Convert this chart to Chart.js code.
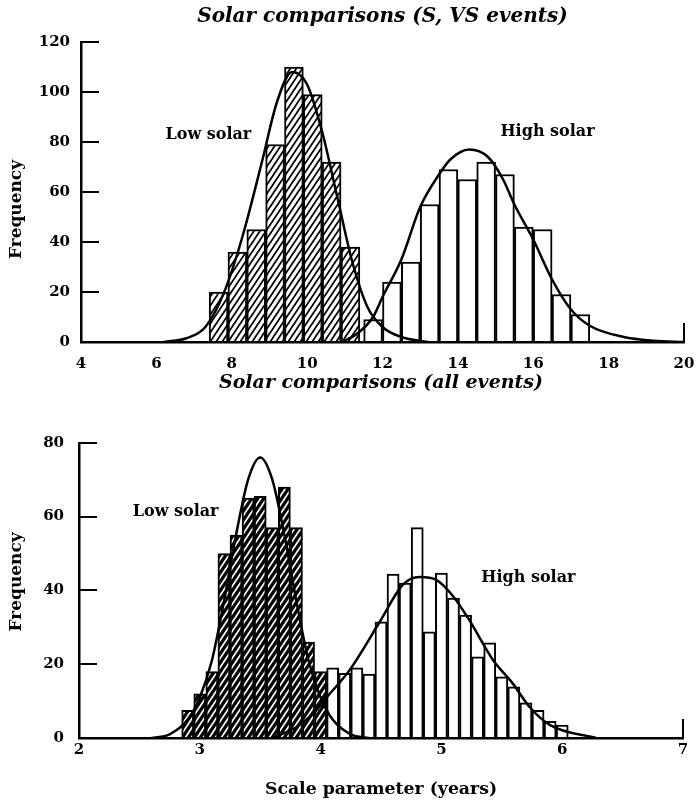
<!DOCTYPE html>
<html>
<head>
<meta charset="utf-8">
<script src="https://cdn.jsdelivr.net/npm/chart.js@4.4.0/dist/chart.umd.min.js"></script>
<style>
  body { margin: 0; background: #fff; }
  .box { position: absolute; left: 0; width: 696px; }
  #boxTop { top: 0; height: 380px; }
  #boxBottom { top: 372px; height: 434px; }
</style>
</head>
<body>
<div class="box" id="boxTop"><canvas id="chartTop"></canvas></div>
<div class="box" id="boxBottom"><canvas id="chartBottom"></canvas></div>
<script>
// S, VS events: histogram bins (centre, years) and counts
const svLowBins = [7.65, 8.15, 8.65, 9.15, 9.65, 10.15, 10.65, 11.15];
const svLowCounts = [20, 36, 45, 79, 110, 99, 72, 38];
const svHighBins = [11.75, 12.25, 12.75, 13.25, 13.75, 14.25, 14.75, 15.25, 15.75, 16.25, 16.75, 17.25];
const svHighCounts = [9, 24, 32, 55, 69, 65, 72, 67, 46, 45, 19, 11];

// S, VS events: fitted curves
const svLowFitX = [6.2, 6.8, 7.3, 7.8, 8.3, 8.8, 9.2, 9.6, 10.0, 10.4, 10.8, 11.2, 11.6, 12.0, 12.5, 13.2];
const svLowFitY = [0, 1.5, 6, 20, 43, 72, 96, 108, 103, 84, 58, 32, 14, 6, 2, 0];
const svHighFitX = [10.9, 11.3, 11.75, 12.0, 12.5, 13.0, 13.5, 13.8, 14.3, 14.8, 15.2, 15.5, 16.0, 16.5, 17.0, 17.5, 18.4, 19.2, 20];
const svHighFitY = [0, 3, 10, 18, 33, 54, 67, 73, 77, 74, 65, 55, 41, 25, 13, 6.5, 2, 0.5, 0];

// all events: histogram bins and counts
const allLowBins = [2.9, 3.0, 3.1, 3.2, 3.3, 3.4, 3.5, 3.6, 3.7, 3.8, 3.9, 4.0];
const allLowCounts = [7.5, 12, 18, 50, 55, 65, 65.5, 57, 68, 57, 26, 18];
const allHighBins = [4.1, 4.2, 4.3, 4.4, 4.5, 4.6, 4.7, 4.8, 4.9, 5.0, 5.1, 5.2, 5.3, 5.4, 5.5, 5.6, 5.7, 5.8, 5.9, 6.0];
const allHighCounts = [19, 17.5, 19, 17.3, 31.5, 44.4, 42, 57, 28.8, 44.7, 37.9, 33.3, 22, 25.8, 16.6, 13.9, 9.5, 7.5, 4.5, 3.5];

// all events: fitted curves
const allLowFitX = [2.6, 2.75, 2.9, 3.0, 3.1, 3.2, 3.3, 3.4, 3.5, 3.6, 3.7, 3.8, 3.9, 4.0, 4.1, 4.25, 4.4];
const allLowFitY = [0, 1, 5, 11, 21, 37, 55, 70, 76, 70, 55, 37, 21, 11, 5, 1, 0];
const allHighFitX = [3.6, 3.8, 3.95, 4.05, 4.24, 4.49, 4.68, 4.82, 4.96, 5.1, 5.23, 5.43, 5.59, 5.73, 5.9, 6.28];
const allHighFitY = [0, 3, 7, 11, 18.4, 31.5, 41.5, 43.6, 42.8, 38.3, 32, 21, 14.8, 8.4, 3.5, 0];

const serif = "'DejaVu Serif', serif";

function hatch(w, h, lw) {
    let c = document.createElement('canvas');
    c.width = w;
    c.height = h;
    let g = c.getContext('2d');
    g.fillStyle = '#fff';
    g.fillRect(0, 0, w, h);
    g.strokeStyle = '#000';
    g.lineWidth = lw;
    g.beginPath();
    g.moveTo(-w, 2 * h); g.lineTo(2 * w, -h);
    g.moveTo(-2 * w, 2 * h); g.lineTo(w, -h);
    g.moveTo(0, 2 * h); g.lineTo(3 * w, -h);
    g.stroke();
    return g.createPattern(c, 'repeat');
}

const pts = (xs, ys) => xs.map((x, i) => ({ x, y: ys[i] }));

function barSet(xs, ys, fill) {
    return {
        type: 'bar', data: pts(xs, ys), backgroundColor: fill, borderColor: '#000',
        borderWidth: 2, grouped: false, barPercentage: 1, categoryPercentage: 1, order: 2
    };
}

function fitSet(xs, ys) {
    return {
        type: 'line', data: pts(xs, ys), borderColor: '#000', borderWidth: 2.5,
        pointRadius: 0, cubicInterpolationMode: 'monotone', fill: false, order: 0
    };
}

// curve labels, the "Frequency" title and the short upright stroke at the right end of the x axis
const decor = {
    id: 'decor',
    afterDraw(chart, args, opts) {
        let { ctx, scales: { x, y } } = chart;
        ctx.save();
        ctx.fillStyle = '#000';
        ctx.font = 'bold 16px ' + serif;
        ctx.textAlign = 'center';
        ctx.textBaseline = 'middle';
        opts.labels.forEach(l => ctx.fillText(l.text, x.getPixelForValue(l.x), y.getPixelForValue(l.y)));

        ctx.font = 'bold 17px ' + serif;
        ctx.translate(opts.yTitleX, y.getPixelForValue(opts.yTitleAt));
        ctx.rotate(-Math.PI / 2);
        ctx.fillText('Frequency', 0, 0);
        ctx.setTransform(1, 0, 0, 1, 0, 0);

        ctx.strokeStyle = '#000';
        ctx.lineWidth = 2;
        ctx.beginPath();
        ctx.moveTo(x.right, y.bottom);
        ctx.lineTo(x.right, y.bottom - opts.endMark);
        ctx.stroke();
        ctx.restore();
    }
};

function makeChart(id, o) {
    new Chart(document.getElementById(id), {
        type: 'bar',
        data: { datasets: o.datasets },
        plugins: [decor],
        options: {
            responsive: true,
            maintainAspectRatio: false,
            animation: false,
            layout: { padding: { left: 0, right: o.padRight, top: 0, bottom: 0 } },
            plugins: {
                legend: { display: false },
                tooltip: { enabled: false },
                title: {
                    display: true, text: o.title, color: '#000', fullSize: false,
                    font: { family: serif, size: o.titleSize, style: 'italic', weight: 'bold' },
                    padding: o.titlePad
                },
                decor: { labels: o.labels, endMark: 19, yTitleX: 17, yTitleAt: o.yTitleAt }
            },
            scales: {
                x: {
                    type: 'linear', min: o.xMin, max: o.xMax, offset: false,
                    afterFit: s => { s.height = o.xHeight; },
                    // invisible tick marks only push the labels down
                    grid: { display: true, drawOnChartArea: false, drawTicks: true, tickLength: o.xGap, color: 'rgba(0,0,0,0)' },
                    border: { display: true, color: '#000', width: 2.5 },
                    ticks: { stepSize: o.xStep, padding: o.xPad, color: '#000', font: { family: serif, size: 15, weight: 'bold' } },
                    title: {
                        display: !!o.xTitle, text: o.xTitle, color: '#000',
                        font: { family: serif, size: 17.3, weight: 'bold' }, padding: { top: 0, bottom: 6 }
                    }
                },
                y: {
                    min: 0, max: o.yMax,
                    afterFit: s => { s.width = o.yWidth; },
                    grid: { drawOnChartArea: false, drawTicks: true, tickLength: -18, color: '#000', lineWidth: 2 },
                    border: { display: true, color: '#000', width: 2.5 },
                    ticks: { stepSize: 20, padding: o.yPad, color: '#000', font: { family: serif, size: 15, weight: 'bold' } }
                }
            }
        }
    });
}

let hatchTop = hatch(6, 9, 1.8);
let hatchBottom = hatch(6, 9, 3.2);

makeChart('chartTop', {
    title: 'Solar comparisons (S, VS events)', titleSize: 20,
    titlePad: { top: 5, bottom: 13 },
    xMin: 4, xMax: 20, xStep: 2, xPad: 0, xGap: 13, xHeight: 37, yMax: 120, yWidth: 81, yPad: 29, padRight: 12,
    yTitleAt: 53,
    labels: [{ text: 'Low solar', x: 7.38, y: 83 }, { text: 'High solar', x: 16.38, y: 84 }],
    datasets: [
        fitSet(svLowFitX, svLowFitY),
        fitSet(svHighFitX, svHighFitY),
        barSet(svLowBins, svLowCounts, hatchTop),
        barSet(svHighBins, svHighCounts, '#fff')
    ]
});

makeChart('chartBottom', {
    title: 'Solar comparisons (all events)', titleSize: 19,
    titlePad: { top: 0, bottom: 48 },
    xMin: 2, xMax: 7, xStep: 1, xPad: -5, xGap: 8, xHeight: 68, yMax: 80, yWidth: 79, yPad: 33, padRight: 13,
    xTitle: 'Scale parameter (years)',
    yTitleAt: 42.3,
    labels: [{ text: 'Low solar', x: 2.8, y: 61.2 }, { text: 'High solar', x: 5.72, y: 43.4 }],
    datasets: [
        fitSet(allLowFitX, allLowFitY),
        fitSet(allHighFitX, allHighFitY),
        barSet(allLowBins, allLowCounts, hatchBottom),
        barSet(allHighBins, allHighCounts, '#fff')
    ]
});
</script>
</body>
</html>
